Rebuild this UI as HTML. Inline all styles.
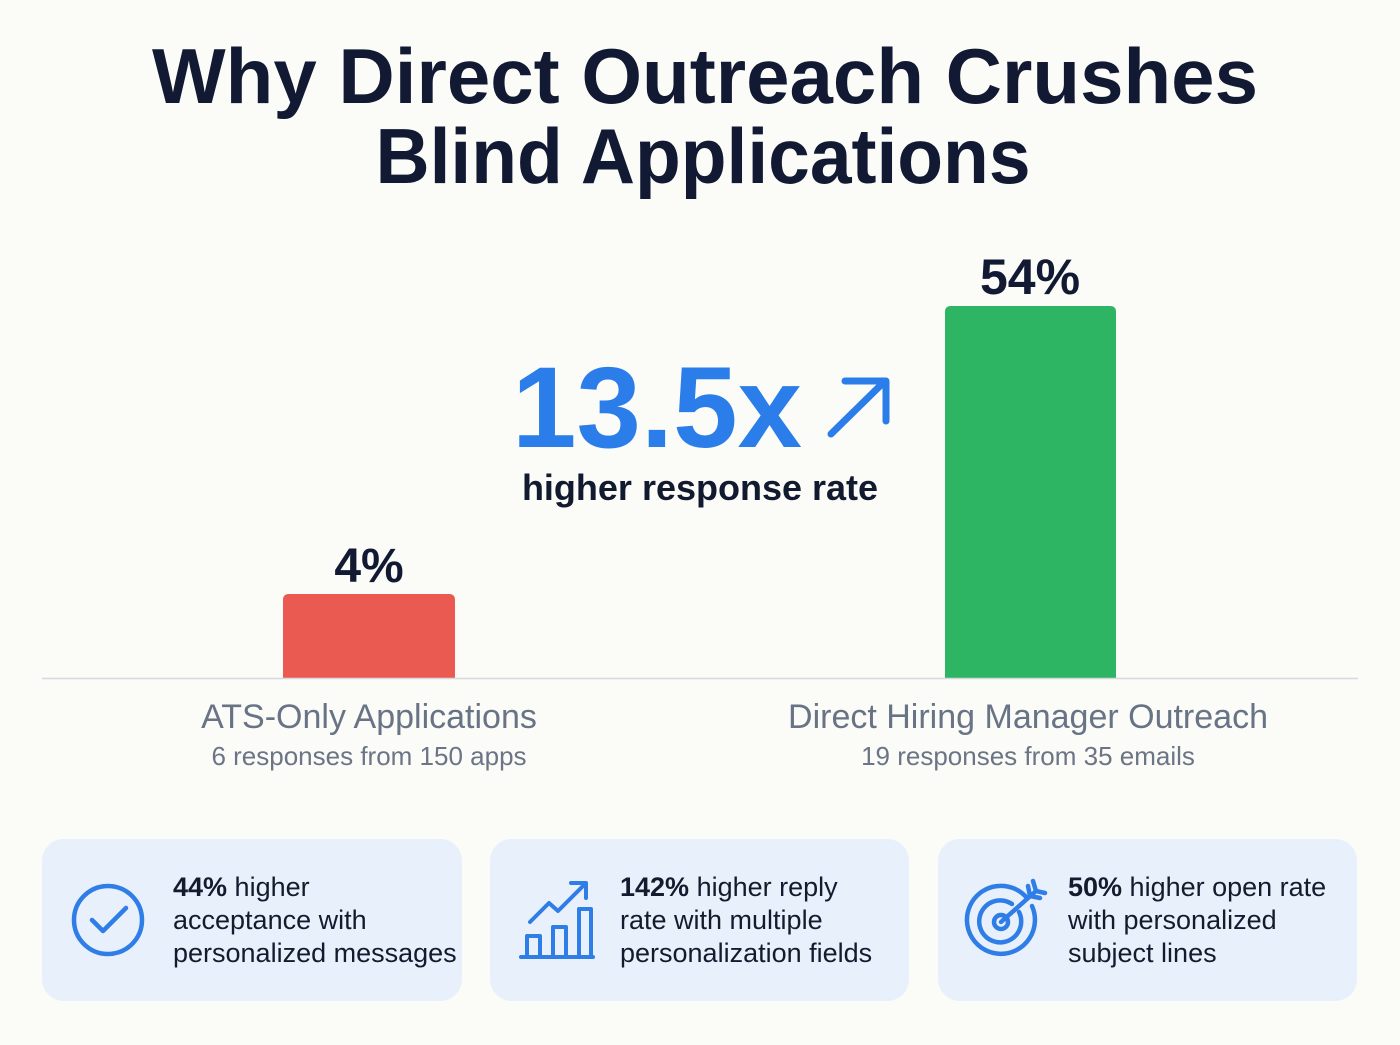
<!DOCTYPE html>
<html>
<head>
<meta charset="utf-8">
<style>
  html, body { margin: 0; padding: 0; background: #fbfbf8; }
  svg { display: block; }
  text { font-family: "Liberation Sans", "DejaVu Sans", sans-serif; }
</style>
</head>
<body>
<svg width="1400" height="1045" viewBox="0 0 1400 1045" xmlns="http://www.w3.org/2000/svg">
  <rect x="0" y="0" width="1400" height="1045" fill="#fbfbf8"/>

  <!-- Title -->
  <text x="705" y="103" text-anchor="middle" font-size="78" font-weight="bold" fill="#121a33" textLength="1106" lengthAdjust="spacingAndGlyphs">Why Direct Outreach Crushes</text>
  <text x="703" y="183" text-anchor="middle" font-size="78" font-weight="bold" fill="#121a33" textLength="655" lengthAdjust="spacingAndGlyphs">Blind Applications</text>

  <!-- Bars -->
  <path d="M283,678 L283,600 Q283,594 289,594 L449,594 Q455,594 455,600 L455,678 Z" fill="#eb5a50"/>
  <path d="M945,678 L945,312 Q945,306 951,306 L1110,306 Q1116,306 1116,312 L1116,678 Z" fill="#2db563"/>

  <!-- Value labels -->
  <text x="369" y="582" text-anchor="middle" font-size="48" font-weight="bold" fill="#121a33">4%</text>
  <text x="1030" y="294" text-anchor="middle" font-size="50" font-weight="bold" fill="#121a33">54%</text>

  <!-- Axis line -->
  <line x1="42" y1="678.5" x2="1358" y2="678.5" stroke="#d6d9df" stroke-width="1.5"/>

  <!-- Center callout -->
  <text x="512" y="447" font-size="115" font-weight="bold" fill="#2b7de9" textLength="290" lengthAdjust="spacingAndGlyphs">13.5x</text>
  <g stroke="#2b7de9" stroke-width="7" stroke-linecap="round" stroke-linejoin="round" fill="none">
    <line x1="831" y1="434" x2="884" y2="382"/>
    <polyline points="845,381 886,381 886,421"/>
  </g>
  <text x="700" y="500" text-anchor="middle" font-size="36" font-weight="bold" fill="#111a2e">higher response rate</text>

  <!-- Category labels -->
  <text x="369" y="728" text-anchor="middle" font-size="34" fill="#687385">ATS-Only Applications</text>
  <text x="369" y="765" text-anchor="middle" font-size="26" fill="#6b7586">6 responses from 150 apps</text>
  <text x="1028" y="728" text-anchor="middle" font-size="34" fill="#687385">Direct Hiring Manager Outreach</text>
  <text x="1028" y="765" text-anchor="middle" font-size="26" fill="#6b7586">19 responses from 35 emails</text>

  <!-- Cards -->
  <rect x="42" y="839" width="420" height="162" rx="22" fill="#e7f0fb"/>
  <rect x="490" y="839" width="419" height="162" rx="22" fill="#e7f0fb"/>
  <rect x="938" y="839" width="419" height="162" rx="22" fill="#e7f0fb"/>

  <!-- Card 1 icon: check circle -->
  <g stroke="#2f7de6" stroke-width="4.5" fill="none" stroke-linecap="round" stroke-linejoin="round">
    <circle cx="108" cy="920" r="34"/>
    <polyline points="92,920 103,931 126,908"/>
  </g>
  <text font-size="27" fill="#141b2e">
    <tspan x="173" y="896"><tspan font-weight="bold">44%</tspan> higher</tspan>
    <tspan x="173" y="929">acceptance with</tspan>
    <tspan x="173" y="962">personalized messages</tspan>
  </text>

  <!-- Card 2 icon: bar chart trend -->
  <g stroke="#2f7de6" stroke-width="4" fill="none" stroke-linecap="round" stroke-linejoin="round">
    <line x1="521" y1="957" x2="593" y2="957"/>
    <rect x="527" y="936" width="13" height="21"/>
    <rect x="553" y="927" width="13" height="30"/>
    <rect x="579" y="909" width="12" height="48"/>
    <polyline points="530,922 549,903 558,911 585,884"/>
    <polyline points="571,883 586,883 586,898"/>
  </g>
  <text font-size="27" fill="#141b2e">
    <tspan x="620" y="896"><tspan font-weight="bold">142%</tspan> higher reply</tspan>
    <tspan x="620" y="929">rate with multiple</tspan>
    <tspan x="620" y="962">personalization fields</tspan>
  </text>

  <!-- Card 3 icon: target -->
  <g stroke="#2f7de6" stroke-width="4.5" fill="none" stroke-linecap="round" stroke-linejoin="round">
    <path d="M1027,898 A34,34 0 1 0 1032,906"/>
    <path d="M1012,904 A21,21 0 1 0 1019,912"/>
    <circle cx="1001" cy="922" r="7"/>
    <line x1="1001" y1="922" x2="1036" y2="891"/>
    <polyline points="1028,886 1030,896 1040,898"/>
    <polyline points="1033,881 1036,891 1045,893"/>
  </g>
  <text font-size="27" fill="#141b2e">
    <tspan x="1068" y="896"><tspan font-weight="bold">50%</tspan> higher open rate</tspan>
    <tspan x="1068" y="929">with personalized</tspan>
    <tspan x="1068" y="962">subject lines</tspan>
  </text>
</svg>
</body>
</html>
